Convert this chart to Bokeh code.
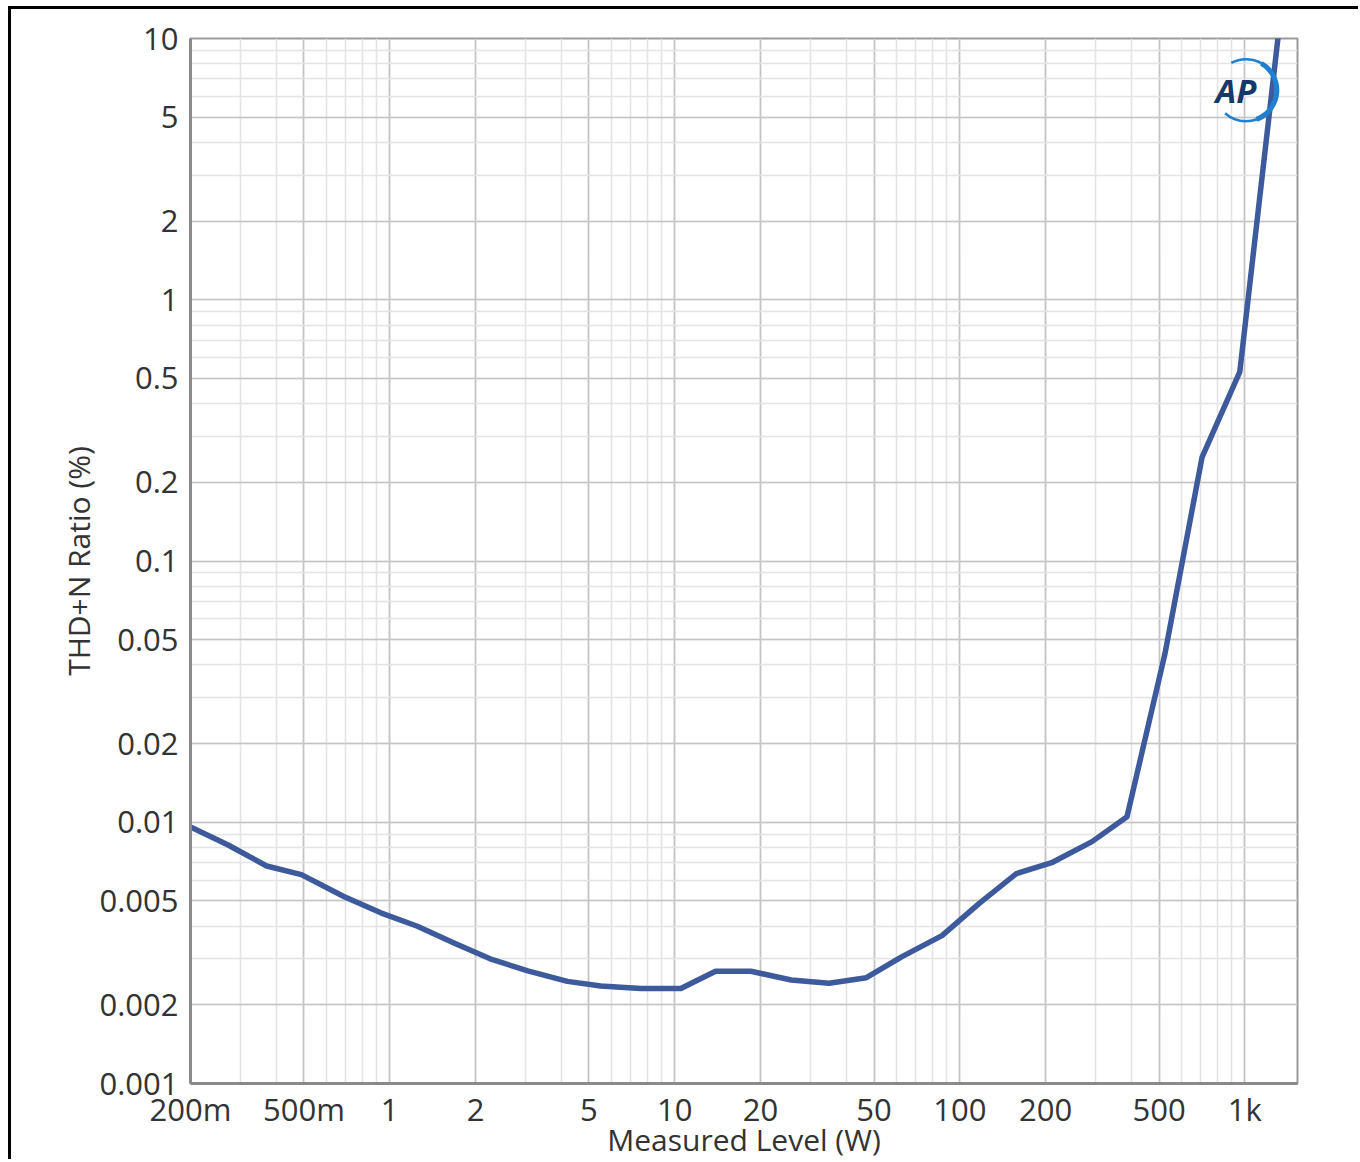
from bokeh.plotting import figure
from bokeh.models import FixedTicker, Label
from bokeh.embed import file_html
from bokeh.resources import INLINE
import math

# ---- data ----
level_w = [0.2, 0.27, 0.37, 0.49, 0.69, 0.93, 1.25, 1.68, 2.25, 3.05, 4.2, 5.5, 7.6, 10.5,
           13.9, 18.5, 25.6, 34.8, 47, 62.7, 86.6, 117, 158, 210, 291, 386, 524, 708, 960, 1400]
thd_pct = [0.0096, 0.0082, 0.0068, 0.0063, 0.0052, 0.0045, 0.0040, 0.00345, 0.0030, 0.0027,
           0.00246, 0.00236, 0.00231, 0.00231, 0.00269, 0.00269, 0.00249, 0.00242, 0.00254,
           0.00306, 0.00368, 0.00489, 0.00636, 0.0070, 0.00843, 0.0105, 0.044, 0.25, 0.53, 19.4]

x_ticks = [0.2, 0.5, 1, 2, 5, 10, 20, 50, 100, 200, 500, 1000]
x_tick_labels = ["200m", "500m", "1", "2", "5", "10", "20", "50", "100", "200", "500", "1k"]
y_ticks = [0.001, 0.002, 0.005, 0.01, 0.02, 0.05, 0.1, 0.2, 0.5, 1, 2, 5, 10]
y_tick_labels = ["0.001", "0.002", "0.005", "0.01", "0.02", "0.05", "0.1", "0.2", "0.5", "1", "2", "5", "10"]

x_minor = [m * 10 ** e for e in range(-1, 4) for m in range(1, 10)]
y_minor = [m * 10 ** e for e in range(-3, 2) for m in range(1, 10)]

FONT = "Open Sans"
TXT = "#333333"

p = figure(width=1350, height=1153, x_axis_type="log", y_axis_type="log",
           x_range=(0.2, 1530), y_range=(0.001, 10),
           output_backend="svg", toolbar_location=None,
           min_border_left=179, min_border_right=64, min_border_top=29, min_border_bottom=77)
p.styles = {"margin-left": "8px", "margin-top": "6px",
            "border-left": "3px solid #000", "border-top": "3px solid #000"}

p.outline_line_color = "#9a9a9a"
p.outline_line_width = 2
p.background_fill_color = "white"
p.border_fill_color = "white"

for ax, ticks, labels, minor in ((p.xaxis[0], x_ticks, x_tick_labels, x_minor),
                                 (p.yaxis[0], y_ticks, y_tick_labels, y_minor)):
    ax.ticker = FixedTicker(ticks=ticks, minor_ticks=minor)
    ax.major_label_overrides = {t: l for t, l in zip(ticks, labels)}
    ax.major_tick_line_color = None
    ax.minor_tick_line_color = None
    ax.axis_line_color = "#8a8a8a"
    ax.axis_line_width = 3
    ax.major_label_text_font = FONT
    ax.major_label_text_font_size = "31px"
    ax.major_label_text_color = TXT
    ax.axis_label_text_font = FONT
    ax.axis_label_text_font_size = "30px"
    ax.axis_label_text_font_style = "normal"
    ax.axis_label_text_color = TXT

p.xaxis.axis_label = "Measured Level (W)"
p.yaxis.axis_label = "THD+N Ratio (%)"
p.xaxis.major_label_standoff = -2
p.xaxis.axis_label_standoff = -14
p.yaxis.major_label_standoff = 6
p.yaxis.axis_label_standoff = -3

for g in (p.xgrid[0], p.ygrid[0]):
    g.grid_line_color = "#c4c4c4"
    g.grid_line_width = 1.6
    g.minor_grid_line_color = "#e4e4e4"
    g.minor_grid_line_width = 1.6

p.line(level_w, thd_pct, line_color="#3d5a9c", line_width=5.5, line_join="round")

# AP logo
logo_x, logo_y = 1008, 6.34
p.arc(x=[logo_x], y=[logo_y], radius=31, radius_units="screen",
      start_angle=math.radians(118), end_angle=math.radians(-132), direction="clock",
      line_color="#1f7fd1", line_width=2.5)
p.arc(x=[logo_x], y=[logo_y], radius=31, radius_units="screen",
      start_angle=math.radians(60), end_angle=math.radians(-70), direction="clock",
      line_color="#1f7fd1", line_width=5)
p.add_layout(Label(x=930, y=logo_y, text="AP", text_font="Open Sans", text_font_style="bold italic",
                   text_font_size="33px", text_color="#15396a", text_align="center",
                   text_baseline="middle"))

open("out.html", "w").write(file_html(p, INLINE))
